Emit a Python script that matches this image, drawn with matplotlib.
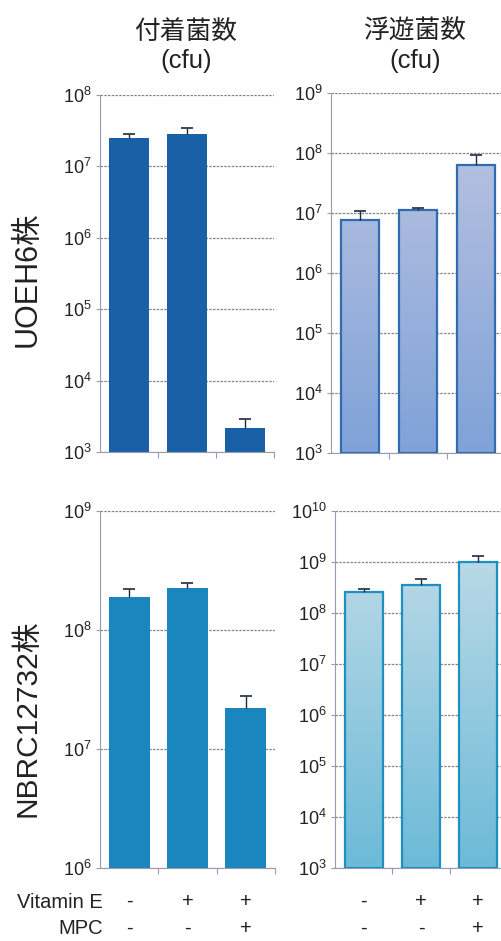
import numpy as np
import matplotlib
matplotlib.use("Agg")
import matplotlib.pyplot as plt
from matplotlib.colors import LinearSegmentedColormap
from matplotlib import transforms
from matplotlib.ticker import FixedLocator, NullLocator, LogFormatterMathtext

plt.rcParams['font.family'] = ['Liberation Sans', 'Noto Sans CJK JP', 'DejaVu Sans']
plt.rcParams['mathtext.fontset'] = 'custom'
plt.rcParams['mathtext.rm'] = 'Liberation Sans'
plt.rcParams['mathtext.it'] = 'Liberation Sans:italic'
plt.rcParams['mathtext.default'] = 'regular'

# ---- data ----
vitamin_e = ["-", "+", "+"]
mpc = ["-", "-", "+"]
col_titles = ["付着菌数", "浮遊菌数"]
unit_label = "(cfu)"
row_titles = ["UOEH6株", "NBRC12732株"]

uoeh_adherent = [2.5e7, 2.8e7, 2.2e3]
uoeh_adherent_err = [0.3e7, 0.7e7, 0.7e3]
uoeh_planktonic = [7.6e6, 1.14e7, 6.4e7]
uoeh_planktonic_err = [3.4e6, 0.6e6, 3.0e7]
nbrc_adherent = [1.88e8, 2.24e8, 2.22e7]
nbrc_adherent_err = [0.32e8, 0.23e8, 0.57e7]
nbrc_planktonic = [2.62e8, 3.5e8, 1.01e9]
nbrc_planktonic_err = [0.28e8, 1.1e8, 0.3e9]

W, H = 502, 941
fig = plt.figure(figsize=(W / 100, H / 100), dpi=100)
fig.patch.set_facecolor('white')
TXT = '#222222'

def rect(l, r, t, b):
    return [l / W, 1 - b / H, (r - l) / W, (b - t) / H]

panels = [
    dict(pos=rect(100, 274, 95, 452), vals=uoeh_adherent, err=uoeh_adherent_err,
         ylim=(3, 8), solid='#1a60a6', grad=None, edge=None, width=0.70),
    dict(pos=rect(331, 505, 93, 453), vals=uoeh_planktonic, err=uoeh_planktonic_err,
         ylim=(3, 9), solid=None, grad=('#7fa2d8', '#c0c6e2'), edge='#2f6db0', width=0.66),
    dict(pos=rect(100, 275, 511, 868), vals=nbrc_adherent, err=nbrc_adherent_err,
         ylim=(6, 9), solid='#1a86be', grad=None, edge=None, width=0.70),
    dict(pos=rect(335, 507, 511, 868), vals=nbrc_planktonic, err=nbrc_planktonic_err,
         ylim=(3, 10), solid=None, grad=('#6cbad8', '#c6dee9'), edge='#1d8fc0', width=0.66),
]

x = np.arange(3)
axes = []
for p in panels:
    ax = fig.add_axes(p['pos'])
    axes.append(ax)
    lo, hi = 10.0 ** p['ylim'][0], 10.0 ** p['ylim'][1]
    ax.set_yscale('log')
    ax.set_autoscale_on(False)
    ax.set_xlim(-0.5, 2.5)
    ax.set_ylim(lo, hi)
    ax.set_axisbelow(True)
    ax.yaxis.set_major_locator(FixedLocator([10.0 ** k for k in range(p['ylim'][0], p['ylim'][1] + 1)]))
    ax.yaxis.set_major_formatter(LogFormatterMathtext())
    ax.yaxis.set_minor_locator(NullLocator())
    ax.yaxis.grid(True, which='major', color='#85858f', linestyle=(0, (2, 1)), linewidth=0.9)
    for s in ['top', 'right']:
        ax.spines[s].set_visible(False)
    for s in ['left', 'bottom']:
        ax.spines[s].set_color('#9a9ab0')
        ax.spines[s].set_linewidth(0.8)
    ax.tick_params(axis='y', which='major', direction='out', length=3, color='#9a9ab0',
                   labelsize=13, pad=3, labelcolor=TXT)
    ax.xaxis.set_major_locator(FixedLocator([0.5, 1.5, 2.5]))
    ax.tick_params(axis='x', which='major', direction='out', length=4, color='#9a9ab0',
                   labelbottom=False)

    if p['grad'] is None:
        bars = ax.bar(x, np.array(p['vals']) - lo, width=p['width'], color=p['solid'],
                      edgecolor='none', bottom=lo, zorder=2)
    else:
        bars = ax.bar(x, np.array(p['vals']) - lo, width=p['width'], color='none',
                      edgecolor=p['edge'], linewidth=1.6, bottom=lo, zorder=3)
        cmap = LinearSegmentedColormap.from_list('g', [p['grad'][0], p['grad'][1]])
        grad = np.linspace(0, 1, 256).reshape(-1, 1)
        for b in bars:
            im = ax.imshow(grad, extent=[0, 1, 0, 1], transform=ax.transAxes, cmap=cmap,
                           aspect='auto', origin='lower', zorder=2, interpolation='bilinear')
            im.set_clip_path(b)
        ax.set_xlim(-0.5, 2.5)
        ax.set_ylim(lo, hi)
    vals = np.array(p['vals'])
    tops = vals + np.array(p['err'])
    ax.vlines(x, vals, tops, color='#1e2a40', linewidth=1.0, zorder=4)
    ax.plot(x, tops, linestyle='none', marker='_', markersize=9, markeredgewidth=1.2,
            color='#1e2a40', zorder=4)

# column titles
for cx, t in zip([186, 415], col_titles):
    fig.text(cx / W, 1 - 32 / H, t, ha='center', va='center', fontsize=18.5, color=TXT)
    fig.text(cx / W, 1 - 61 / H, unit_label, ha='center', va='center', fontsize=18.5, color=TXT)

# row titles
fig.text(28 / W, 1 - 279 / H, row_titles[0], ha='center', va='center', rotation=90,
         fontsize=22, color=TXT)
fig.text(28 / W, 1 - 718 / H, row_titles[1], ha='center', va='center', rotation=90,
         fontsize=21.5, color=TXT)

# treatment labels
for ax in axes[2:]:
    tr = transforms.blended_transform_factory(ax.transData, ax.transAxes)
    for i in range(3):
        ax.text(x[i], -0.093, vitamin_e[i], transform=tr, ha='center', va='center',
                fontsize=14.5, color=TXT)
        ax.text(x[i], -0.170, mpc[i], transform=tr, ha='center', va='center',
                fontsize=14.5, color=TXT)
fig.text(103 / W, 1 - 902 / H, "Vitamin E", ha='right', va='center', fontsize=14.5, color=TXT)
fig.text(103 / W, 1 - 929 / H, "MPC", ha='right', va='center', fontsize=14.5, color=TXT)

fig.savefig("out.png", dpi=100, facecolor='white')
